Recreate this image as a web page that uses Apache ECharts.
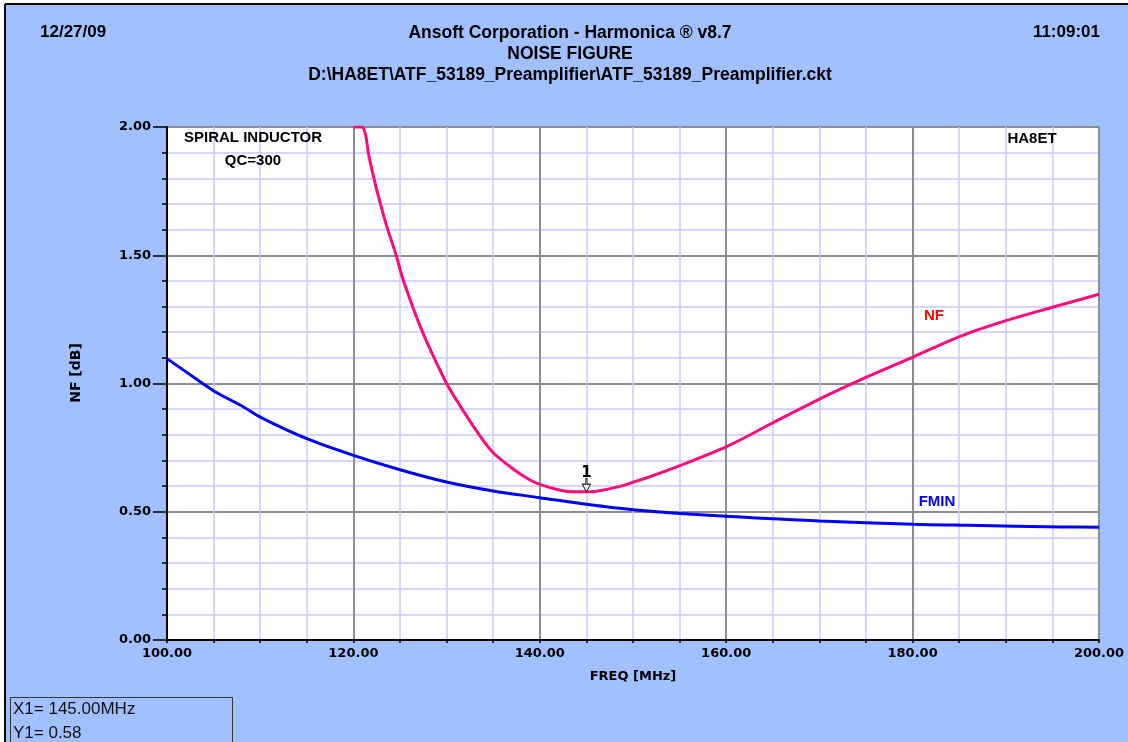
<!DOCTYPE html>
<html>
<head>
<meta charset="utf-8">
<script src="https://cdn.jsdelivr.net/npm/echarts/dist/echarts.min.js"></script>
<style>
html,body{margin:0;padding:0;background:#fff;}
#chart{width:1128px;height:742px;}
</style>
</head>
<body>
<div id="chart"></div>
<script>
// ---- data ----
const nfFreq = [120.0,120.9,121.3,121.6,122.2,122.9,123.6,124.5,125.2,126.1,127.2,128.4,130.0,131.5,133.3,135.0,137.2,138.9,140.0,142.2,143.6,145.0,146.1,148.6,150.0,151.9,155.1,160.1,164.7,170.1,174.7,180.1,185.1,190.1,195.1,200.0];
const nfVals = [2.00,2.00,1.97,1.90,1.80,1.70,1.61,1.51,1.42,1.325,1.22,1.12,1.00,0.91,0.81,0.73,0.665,0.625,0.607,0.584,0.578,0.578,0.580,0.599,0.615,0.638,0.681,0.755,0.841,0.941,1.019,1.104,1.184,1.246,1.298,1.348];
const fminFreq = [100,103.6,105.2,107.9,110,115,120,125,130,135,140,145,150,160,170,180,186,196,200];
const fminVals = [1.097,1.006,0.967,0.915,0.869,0.785,0.720,0.664,0.616,0.581,0.555,0.529,0.508,0.482,0.464,0.451,0.447,0.441,0.440];
const marker = {freq:145.0, val:0.578, label:'1'};
const headerLeft = '12/27/09';
const headerRight = '11:09:01';
const titleLines = ['Ansoft Corporation - Harmonica \u00AE v8.7','NOISE FIGURE','D:\\HA8ET\\ATF_53189_Preamplifier\\ATF_53189_Preamplifier.ckt'];
const readout = ['X1= 145.00MHz','Y1= 0.58'];

const toPairs = (xs, ys) => xs.map((x,i)=>[x, ys[i]]);
const BOLD_HDR = 'Liberation Sans, Arial, sans-serif';
const BOLD_AX = 'DejaVu Sans, Verdana, sans-serif';

const chart = echarts.init(document.getElementById('chart'), null, {renderer:'canvas'});
chart.setOption({
  animation:false,
  backgroundColor:'#A0C0FF',
  grid:{left:167, top:127, width:932, height:513, show:true, backgroundColor:'#fff', borderColor:'#333', borderWidth:1},
  xAxis:{
    type:'value', min:100, max:200, interval:20,
    name:'FREQ [MHz]', nameLocation:'middle', nameGap:30,
    nameTextStyle:{fontFamily:BOLD_AX, fontWeight:'bold', fontSize:13, color:'#000'},
    axisLine:{show:true, onZero:false, lineStyle:{color:'#000', width:2}},
    axisTick:{show:true, length:3, lineStyle:{color:'#000', width:1.5}},
    minorTick:{show:true, splitNumber:4, length:3, lineStyle:{color:'#000', width:1.5}},
    axisLabel:{formatter:v=>v.toFixed(2), fontFamily:BOLD_AX, fontWeight:'bold', fontSize:13, color:'#000', margin:7},
    splitLine:{show:true, lineStyle:{color:'#8c8c8c', width:2}},
    minorSplitLine:{show:true, lineStyle:{color:'#c8c8ff', width:1.5}}
  },
  yAxis:{
    type:'value', min:0, max:2, interval:0.5,
    axisLine:{show:true, onZero:false, lineStyle:{color:'#000', width:2}},
    axisTick:{show:true, length:14, lineStyle:{color:'#000', width:1.5}},
    minorTick:{show:true, splitNumber:5, length:5, lineStyle:{color:'#000', width:1.5}},
    axisLabel:{formatter:v=>v.toFixed(2), fontFamily:BOLD_AX, fontWeight:'bold', fontSize:13, color:'#000', margin:16},
    splitLine:{show:true, lineStyle:{color:'#8c8c8c', width:2}},
    minorSplitLine:{show:true, lineStyle:{color:'#c8c8ff', width:1.5}}
  },
  series:[
    {
      name:'FMIN', type:'line', data:toPairs(fminFreq, fminVals), showSymbol:false,
      smooth:0.3,
      lineStyle:{color:'#0000FF', width:3}, itemStyle:{color:'#0000FF'}, z:3
    },
    {
      name:'NF', type:'line', data:toPairs(nfFreq, nfVals), showSymbol:false,
      smooth:0.3,
      lineStyle:{color:'#FF0A7C', width:3}, itemStyle:{color:'#FF0A7C'}, z:4,
      markPoint:{
        symbol:'path://M2.5,0 L3.5,0 L3.5,5 L6,5 L3,12 L0,5 L2.5,5 Z',
        symbolSize:[8,13], symbolOffset:[0,-6.5], symbolKeepAspect:false,
        itemStyle:{color:'#ffffff', borderColor:'#333', borderWidth:1.2},
        label:{show:true, position:'top', distance:-3, formatter:marker.label, fontFamily:BOLD_AX, fontWeight:'bold', fontSize:15, color:'#000'},
        data:[{coord:[marker.freq, marker.val]}]
      }
    }
  ],
  graphic:[
    {type:'rect', shape:{x:0,y:0,width:1128,height:4}, style:{fill:'#fff'}, silent:true, z:0},
    {type:'rect', shape:{x:0,y:0,width:5,height:742}, style:{fill:'#fff'}, silent:true, z:0},
    {type:'line', shape:{x1:5,y1:4,x2:1128,y2:4}, style:{stroke:'#000', lineWidth:2}, silent:true},
    {type:'line', shape:{x1:5,y1:4,x2:5,y2:742}, style:{stroke:'#000', lineWidth:2}, silent:true},
    {type:'text', left:40, top:24, style:{text:headerLeft, font:'bold 17px '+BOLD_HDR, fill:'#000'}},
    {type:'text', right:28, top:24, style:{text:headerRight, font:'bold 17px '+BOLD_HDR, fill:'#000'}},
    {type:'text', x:570, y:33, style:{text:titleLines[0], font:'bold 17.5px '+BOLD_HDR, fill:'#000', align:'center', verticalAlign:'middle'}},
    {type:'text', x:570, y:54, style:{text:titleLines[1], font:'bold 17.5px '+BOLD_HDR, fill:'#000', align:'center', verticalAlign:'middle'}},
    {type:'text', x:570, y:75, style:{text:titleLines[2], font:'bold 17.5px '+BOLD_HDR, fill:'#000', align:'center', verticalAlign:'middle'}},
    {type:'text', x:76, y:373, rotation:Math.PI/2, style:{text:'NF [dB]', font:'bold 14px '+BOLD_AX, fill:'#000', align:'center', verticalAlign:'middle'}},
    {type:'text', x:253, y:138, style:{text:'SPIRAL INDUCTOR', font:'bold 15px '+BOLD_HDR, fill:'#000', align:'center', verticalAlign:'middle'}, z:10},
    {type:'text', x:253, y:161, style:{text:'QC=300', font:'bold 15px '+BOLD_HDR, fill:'#000', align:'center', verticalAlign:'middle'}, z:10},
    {type:'text', x:1032, y:139, style:{text:'HA8ET', font:'bold 15px '+BOLD_HDR, fill:'#000', align:'center', verticalAlign:'middle'}, z:10},
    {type:'text', x:934, y:316, style:{text:'NF', font:'bold 15px '+BOLD_HDR, fill:'#FF0000', align:'center', verticalAlign:'middle'}, z:10},
    {type:'text', x:937, y:502, style:{text:'FMIN', font:'bold 15px '+BOLD_HDR, fill:'#0000FF', align:'center', verticalAlign:'middle'}, z:10},
    {type:'rect', shape:{x:10.5,y:697.5,width:222,height:60}, style:{fill:'none', stroke:'#333', lineWidth:1}, silent:true},
    {type:'text', x:13, y:709, style:{text:readout[0], font:'17px Liberation Sans, Arial, sans-serif', fill:'#111', verticalAlign:'middle'}},
    {type:'text', x:13, y:733, style:{text:readout[1], font:'17px Liberation Sans, Arial, sans-serif', fill:'#111', verticalAlign:'middle'}}
  ]
});
</script>
</body>
</html>
